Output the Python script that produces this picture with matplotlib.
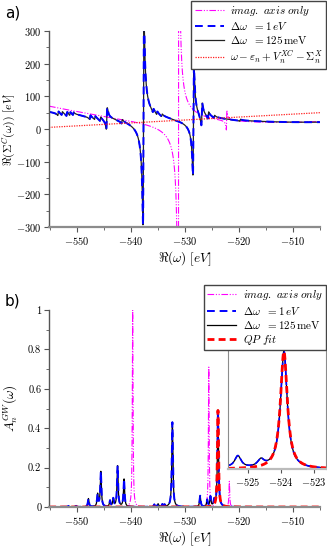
import numpy as np
import matplotlib
matplotlib.use('Agg')
import matplotlib.pyplot as plt
from matplotlib.ticker import MultipleLocator

plt.rcParams['font.family'] = ['cmr10']
plt.rcParams['mathtext.fontset'] = 'cm'
plt.rcParams['axes.formatter.use_mathtext'] = True
plt.rcParams['axes.unicode_minus'] = True

# ---------------- data: panel a (Re Sigma^C) ----------------
omega_lim = [-555.2, -505.0]
# poles of the real-axis self-energy (black / blue curves)
sig_pole_pos = [-553.5, -552.8, -551.9, -551.3, -550.7, -547.6, -546.7, -545.7,
                -544.5, -541.7, -537.7, -535.9, -535.2, -534.3, -528.45,
                -526.9, -525.7, -524.6, -519.8]
sig_pole_wgt = [1.2, 1.0, 1.2, 1.0, 0.8, 1.2, 1.0, 1.2,
                6.0, 1.2, 58.0, 1.2, 1.0, 0.8, 30.0,
                6.4, 2.0, 0.8, 0.6]
sig_bg = [25.0, -0.906, 0.023]      # smooth background around -531 eV
sig_eta = 0.09
# imaginary-axis-only curve (magenta)
imag_pole_pos = [-531.2, -522.3]
imag_pole_wgt = [110.0, 3.0]
imag_bg = [22.0, -1.19, 0.0408]
imag_eta = 0.05
# straight line  omega - eps_n + Vxc - Sigma_x (two end values)
qp_line_x = [-555.2, -505.0]
qp_line_y = [5.0, 50.0]

# ---------------- data: panel b (spectral function) ----------------
spec_pos = [-551.6, -550.2, -547.9, -546.2, -545.6, -543.9, -543.3, -542.5,
            -541.3, -535.7, -535.0, -534.2, -533.8, -532.35, -527.2, -525.9,
            -525.3, -524.6, -523.9]
spec_hgt = [0.005, 0.005, 0.042, 0.063, 0.178, 0.03, 0.04, 0.207,
            0.14, 0.012, 0.015, 0.012, 0.01, 0.43, 0.056, 0.034,
            0.05, 0.03, 0.49]
spec_gam = 0.12
imag_spec_pos = [-539.7, -525.6, -521.8]
imag_spec_hgt = [1.0, 0.71, 0.13]
imag_spec_gam = 0.08
qp_fit_pos = -523.9
qp_fit_hgt = 0.49
qp_fit_gam = 0.125


def re_sigma(w, pos, wgt, eta, bg, ref=-531.0):
    x = w - ref
    out = bg[0] + bg[1] * x + bg[2] * x ** 2
    for p, a in zip(pos, wgt):
        d = w - p
        out = out + a * d / (d ** 2 + eta ** 2)
    return out


def lorentz_sum(w, pos, hgt, gam):
    out = np.zeros_like(w)
    for p, h in zip(pos, hgt):
        out = out + h * gam ** 2 / ((w - p) ** 2 + gam ** 2)
    return out


w = np.linspace(omega_lim[0], omega_lim[1], 20001)
sig = re_sigma(w, sig_pole_pos, sig_pole_wgt, sig_eta, sig_bg)
sig_im = re_sigma(w, imag_pole_pos, imag_pole_wgt, imag_eta, imag_bg)
spec = lorentz_sum(w, spec_pos, spec_hgt, spec_gam)
spec_im = lorentz_sum(w, imag_spec_pos, imag_spec_hgt, imag_spec_gam)
qpfit = lorentz_sum(w, [qp_fit_pos], [qp_fit_hgt], qp_fit_gam)

W, H = 327, 547
fig = plt.figure(figsize=(W / 100, H / 100), dpi=100)

spine_c = '#8c8c8c'
mag = '#ff00ff'
dashdotdot = (0, (6, 1.5, 1, 1.5, 1, 1.5))


def style_axes(ax):
    for s in ['top', 'right']:
        ax.spines[s].set_visible(False)
    ax.spines['left'].set_color('#555555')
    ax.spines['left'].set_linewidth(1.0)
    ax.spines['bottom'].set_color(spine_c)
    ax.spines['bottom'].set_linewidth(1.6)
    ax.tick_params(direction='out', length=3.5, width=0.8, colors='#555555',
                   labelcolor='black', labelsize=7.5, pad=2)
    ax.tick_params(which='minor', direction='out', length=2, width=0.6, colors='#555555')


# ---- panel a ----
axa = fig.add_axes([49 / W, 1 - 227 / H, 271 / W, 196 / H])
style_axes(axa)
la1, = axa.plot(w, sig_im, color=mag, lw=0.8, ls=dashdotdot)
la3, = axa.plot(w, sig, color='#222222', lw=0.9)
la2, = axa.plot(w, sig, color='#0000ff', lw=1.4, ls=(0, (4, 2.5)))
la4, = axa.plot(qp_line_x, qp_line_y, color='#ff2020', lw=0.9, ls=(0, (1, 1)))
axa.set_xlim(omega_lim)
axa.set_ylim(-300, 300)
axa.xaxis.set_major_locator(MultipleLocator(10))
axa.xaxis.set_minor_locator(MultipleLocator(5))
axa.yaxis.set_major_locator(MultipleLocator(100))
axa.yaxis.set_minor_locator(MultipleLocator(50))
axa.set_xlabel(r'$\Re(\omega)\ [eV]$', fontsize=9.5, labelpad=2)
axa.set_ylabel(r'$\Re(\Sigma^C(\omega))\ [eV]$', fontsize=8.5)
axa.yaxis.set_label_coords((18.5 - 49) / 271, 0.5)
fig.legend([la1, la2, la3, la4],
           [r'$imag.\ axis\ only$', r'$\Delta\omega\ \ = 1\,eV$',
            r'$\Delta\omega\ \ = 125\,\mathrm{meV}$',
            r'$\omega - \varepsilon_n + V_n^{XC} - \Sigma_n^X$'],
           loc='upper right', bbox_to_anchor=(0.998, 0.999), fontsize=8,
           fancybox=False, edgecolor='#444444', framealpha=1, handlelength=2.6,
           borderpad=0.3, labelspacing=0.2, handletextpad=0.6, borderaxespad=0)
fig.text(5 / W, 1 - 18 / H, 'a)', family='DejaVu Sans', fontsize=11)

# ---- panel b ----
axb = fig.add_axes([49 / W, 1 - 507 / H, 271 / W, 197 / H])
style_axes(axb)
lb1, = axb.plot(w, spec_im, color=mag, lw=0.8, ls=dashdotdot)
lb3, = axb.plot(w, spec, color='black', lw=0.9)
lb2, = axb.plot(w, spec, color='#0000ff', lw=1.4, ls=(0, (4, 2.5)))
lb4, = axb.plot(w, qpfit, color='#ff0000', lw=2.0, ls=(0, (2.5, 1.5)))
axb.set_xlim(omega_lim)
axb.set_ylim(0, 1)
axb.xaxis.set_major_locator(MultipleLocator(10))
axb.xaxis.set_minor_locator(MultipleLocator(5))
axb.yaxis.set_major_locator(MultipleLocator(0.2))
axb.yaxis.set_minor_locator(MultipleLocator(0.1))
axb.yaxis.set_major_formatter(plt.FuncFormatter(lambda v, p: '0' if abs(v) < 1e-9 else ('1' if abs(v - 1) < 1e-9 else f'{v:.1f}')))
axb.set_xlabel(r'$\Re(\omega)\ [eV]$', fontsize=9.5, labelpad=2)
axb.set_ylabel(r'$A_n^{GW}(\omega)$', fontsize=9.5)
axb.yaxis.set_label_coords((19 - 49) / 271, 0.5)
fig.legend([lb1, lb2, lb3, lb4],
           [r'$imag.\ axis\ only$', r'$\Delta\omega\ \ = 1\,eV$',
            r'$\Delta\omega\ \ = 125\,\mathrm{meV}$', r'$QP\ fit$'],
           loc='upper right', bbox_to_anchor=(0.998, 1 - 285 / H), fontsize=8,
           fancybox=False, edgecolor='#444444', framealpha=1, handlelength=2.6,
           borderpad=0.3, labelspacing=0.2, handletextpad=0.6, borderaxespad=0)
fig.text(5 / W, 1 - 305 / H, 'b)', family='DejaVu Sans', fontsize=11)

# ---- inset ----
axi = fig.add_axes([228 / W, 1 - 469 / H, 98 / W, 120 / H])
for s in ['top', 'right', 'left']:
    axi.spines[s].set_color(spine_c)
    axi.spines[s].set_linewidth(0.8)
axi.spines['bottom'].set_color('#bbbbbb')
axi.spines['bottom'].set_linewidth(1.6)
axi.plot(w, spec, color='black', lw=0.9)
axi.plot(w, spec, color='#0000ff', lw=1.2, ls=(0, (4, 1.5)))
axi.plot(w, qpfit, color='#ff0000', lw=2.0, ls=(0, (2.5, 1.5)))
axi.set_xlim(-525.6, -522.62)
axi.set_ylim(0, 0.5)
axi.set_yticks([])
axi.xaxis.set_major_locator(MultipleLocator(1))
axi.tick_params(direction='out', length=3, width=0.8, colors='#555555',
                labelcolor='black', labelsize=7.5, pad=2)

fig.savefig('out.png', dpi=100)
